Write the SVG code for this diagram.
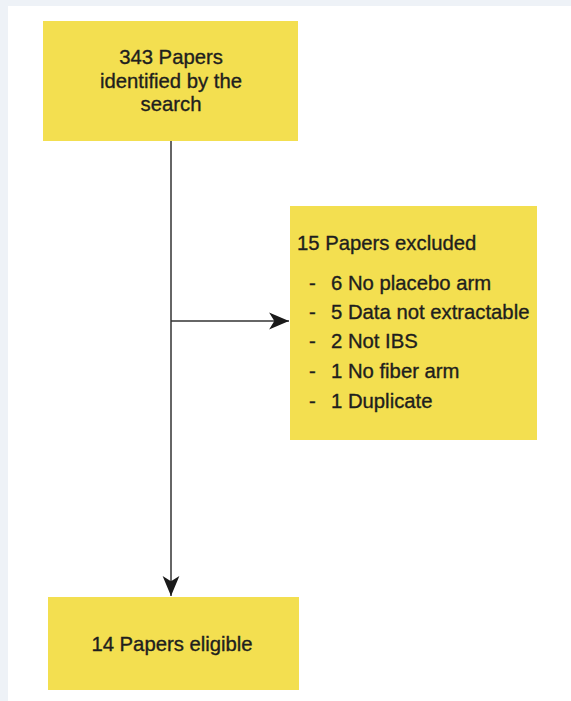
<svg xmlns="http://www.w3.org/2000/svg" width="571" height="701" viewBox="0 0 571 701">
<style>
.box{fill:#f3df50;}
.t{font-family:"Liberation Sans",Arial,Helvetica,sans-serif;font-size:20.3px;fill:#1e1e1e;stroke:#1e1e1e;stroke-width:0.35px;}
.c{text-anchor:middle;}
.edge{stroke:#333;stroke-width:1.5;fill:none;}
</style>
<defs>
<marker id="arr" markerUnits="userSpaceOnUse" markerWidth="22" markerHeight="20" viewBox="-20 -9 21 18" refX="0" refY="0" orient="auto">
<path d="M0,0 L-19,-8 L-14,0 L-19,8 Z" fill="#1a1a1a"/>
</marker>
</defs>
<rect x="0" y="0" width="571" height="701" fill="#eef2f7"/>
<rect x="8" y="6" width="563" height="695" fill="#ffffff"/>
<g id="connectors">
<path class="edge" d="M171,141 L171,596" marker-end="url(#arr)"/>
<path class="edge" d="M171,321 L289,321" marker-end="url(#arr)"/>
</g>
<g id="identified">
<rect class="box" x="43" y="21" width="255" height="120"/>
<text class="t c" x="171" y="64">343 Papers</text>
<text class="t c" x="171" y="88">identified by the</text>
<text class="t c" x="171" y="111">search</text>
</g>
<g id="excluded">
<rect class="box" x="290" y="206" width="247" height="234"/>
<text class="t" x="297" y="250">15 Papers excluded</text>
<text class="t" x="309" y="290">-</text><text class="t" x="331" y="290">6 No placebo arm</text>
<text class="t" x="309" y="319">-</text><text class="t" x="331" y="319">5 Data not extractable</text>
<text class="t" x="309" y="348">-</text><text class="t" x="331" y="348">2 Not IBS</text>
<text class="t" x="309" y="378">-</text><text class="t" x="331" y="378">1 No fiber arm</text>
<text class="t" x="309" y="408">-</text><text class="t" x="331" y="408">1 Duplicate</text>
</g>
<g id="eligible">
<rect class="box" x="48" y="597" width="251" height="93"/>
<text class="t c" x="172" y="651">14 Papers eligible</text>
</g>
</svg>
